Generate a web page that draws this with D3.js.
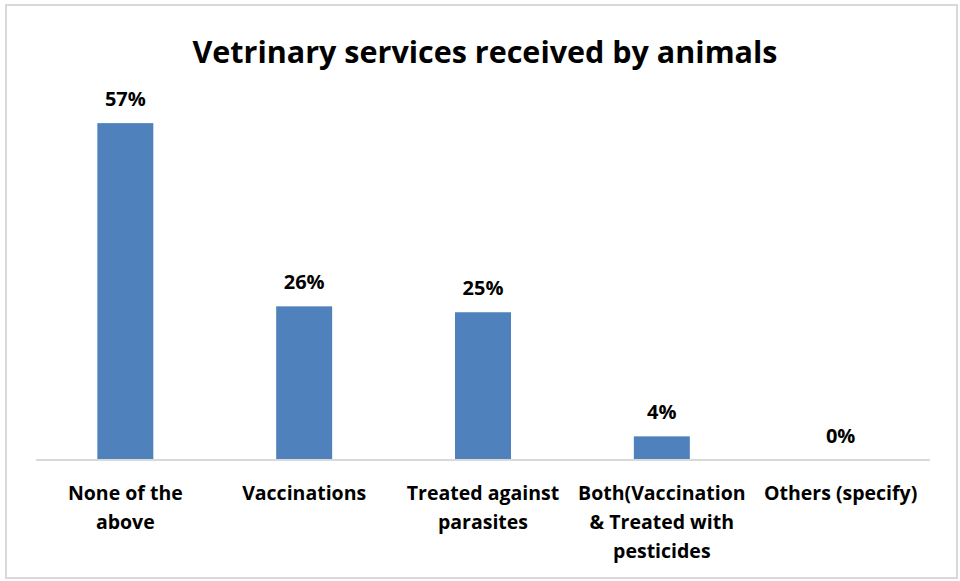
<!DOCTYPE html>
<html>
<head>
<meta charset="utf-8">
<script src="https://cdn.jsdelivr.net/npm/d3@7"></script>
<style>
  html, body { margin: 0; padding: 0; background: #fff; }
  svg { display: block; }
  text { font-family: "Open Sans", "Lato", sans-serif; font-weight: bold; fill: #000; }
</style>
</head>
<body>
<svg id="chart" width="960" height="581"></svg>
<script>
// Share of animals by veterinary service received
const categories = [
  ["None of the", "above"],
  ["Vaccinations"],
  ["Treated against", "parasites"],
  ["Both(Vaccination", "& Treated with", "pesticides"],
  ["Others (specify)"]
];
const values = [0.57, 0.26, 0.25, 0.04, 0.00];
const title = "Vetrinary services received by animals";

const W = 960, H = 581;
const svg = d3.select("#chart");

// outer chart frame
svg.append("rect")
  .attr("x", 6).attr("y", 5)
  .attr("width", W - 9).attr("height", H - 8)
  .attr("fill", "#fff")
  .attr("stroke", "#D9D9D9")
  .attr("stroke-width", 2);

const plot = { left: 36, right: 930, top: 105.4, bottom: 460 };
const idx = d3.range(values.length);

const x = d3.scaleBand()
  .domain(idx)
  .range([plot.left, plot.right])
  .paddingInner(0.687)
  .paddingOuter(0.343);

const y = d3.scaleLinear()
  .domain([0, 0.6])
  .range([plot.bottom, plot.top]);

// title
svg.append("text")
  .attr("x", 485).attr("y", 63)
  .attr("text-anchor", "middle")
  .style("font-size", "30.5px")
  .text(title);

// bars
svg.append("g").selectAll("rect")
  .data(idx)
  .join("rect")
  .attr("x", i => x(i))
  .attr("y", i => y(values[i]))
  .attr("width", x.bandwidth())
  .attr("height", i => y(0) - y(values[i]))
  .attr("fill", "#4F81BD");

// category axis line
const axis = d3.axisBottom(x).tickSize(0).tickFormat(() => "");
const gAxis = svg.append("g")
  .attr("transform", `translate(0,${plot.bottom})`)
  .call(axis);
gAxis.select(".domain")
  .attr("stroke", "#D9D9D9")
  .attr("stroke-width", 2)
  .attr("d", `M${plot.left},0H${plot.right}`);

// category labels (wrapped)
const catG = svg.append("g");
idx.forEach(i => {
  const t = catG.append("text")
    .attr("x", x(i) + x.bandwidth() / 2)
    .attr("y", plot.bottom + 40)
    .attr("text-anchor", "middle")
    .style("font-size", "19.5px");
  categories[i].forEach((line, k) => {
    t.append("tspan")
      .attr("x", x(i) + x.bandwidth() / 2)
      .attr("dy", k === 0 ? 0 : 29)
      .text(line);
  });
});

// value labels
const fmt = d3.format(".0%");
svg.append("g").selectAll("text")
  .data(idx)
  .join("text")
  .attr("x", i => x(i) + x.bandwidth() / 2)
  .attr("y", i => y(values[i]) - 17)
  .attr("text-anchor", "middle")
  .style("font-size", "20px")
  .text(i => fmt(values[i]));
</script>
</body>
</html>
